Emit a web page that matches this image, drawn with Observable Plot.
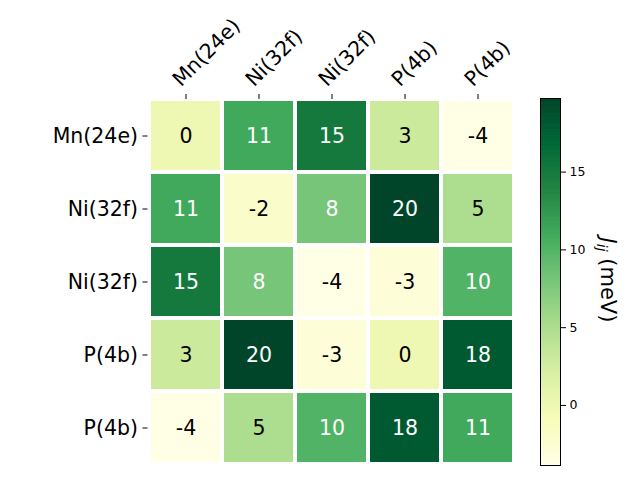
<!DOCTYPE html>
<html><head><meta charset="utf-8">
<script src="https://cdn.jsdelivr.net/npm/d3@7"></script>
<script src="https://cdn.jsdelivr.net/npm/@observablehq/plot@0.6"></script>
<style>
body{margin:0;background:#fff;}
#wrap{position:relative;width:640px;height:480px;font-family:"DejaVu Sans",sans-serif;}
#wrap svg{position:absolute;top:0;}
</style></head><body><div id="wrap"></div>
<script>
const rowLabels = ["Mn(24e)", "Ni(32f)", "Ni(32f)", "P(4b)", "P(4b)"];
const colLabels = ["Mn(24e)", "Ni(32f)", "Ni(32f)", "P(4b)", "P(4b)"];
const values = [
  [0, 11, 15, 3, -3.86],
  [11, -2, 8, 19.73, 5],
  [15, 8, -3.86, -3, 10],
  [3, 19.73, -3, 0, 18],
  [-3.86, 5, 10, 18, 11]
];
const colorMin = -3.86, colorMax = 19.73;
const cbTicks = [0, 5, 10, 15];
const ylgn = ["#ffffe5","#f7fcb9","#d9f0a3","#addd8e","#78c679","#41ab5d","#238443","#006837","#004529"];

const colorScale = {
  type: "linear",
  domain: ylgn.map((_, i) => colorMin + i * (colorMax - colorMin) / (ylgn.length - 1)),
  range: ylgn,
  interpolate: "rgb"
};

const cells = [];
values.forEach((row, i) => row.forEach((v, j) => cells.push({row: i, col: j, v})));
const fmt = v => String(Math.round(v));
const FS = 20.5;

const main = Plot.plot({
  width: 640, height: 480,
  marginLeft: 147.5, marginRight: 125.5, marginTop: 98, marginBottom: 15,
  style: {fontFamily: "DejaVu Sans, sans-serif", fontSize: FS + "px", background: "transparent", color: "black"},
  x: {type: "band", domain: d3.range(5), padding: 0, axis: null},
  y: {type: "band", domain: d3.range(5), padding: 0, axis: null},
  color: colorScale,
  marks: [
    Plot.cell(cells, {x: "col", y: "row", fill: "v", inset: 2}),
    Plot.text(cells.filter(d => d.v > 7), {x: "col", y: "row", text: d => fmt(d.v), fill: "white", fontSize: FS}),
    Plot.text(cells.filter(d => d.v <= 7), {x: "col", y: "row", text: d => fmt(d.v), fill: "black", fontSize: FS}),
    Plot.axisY({anchor: "left", tickSize: 5, tickPadding: 5, tickFormat: i => rowLabels[i], label: null, fontSize: FS}),
    Plot.axisX({anchor: "top", tickSize: 5, tickFormat: () => "", label: null}),
    Plot.text(d3.range(5), {x: d => d, frameAnchor: "top", text: i => colLabels[i], rotate: -45,
      textAnchor: "start", lineAnchor: "bottom", dx: -5, dy: -11, fontSize: FS, fill: "black"})
  ]
});

const N = 300;
const dv = (colorMax - colorMin) / N;
const steps = d3.range(N).map(i => colorMin + dv * i);
const cb = Plot.plot({
  width: 100, height: 480,
  marginLeft: 10, marginRight: 70, marginTop: 98, marginBottom: 15,
  style: {fontFamily: "DejaVu Sans, sans-serif", fontSize: "12.5px", background: "transparent", color: "black", overflow: "visible"},
  x: {domain: [0, 1], axis: null},
  y: {domain: [colorMin, colorMax], axis: null},
  color: colorScale,
  marks: [
    Plot.rect(steps, {x1: d => 0, x2: d => 1, y1: d => d, y2: d => Math.min(colorMax, d + dv * 1.6), fill: d => d}),
    Plot.frame({stroke: "black", strokeWidth: 1}),
    Plot.axisY({anchor: "right", ticks: cbTicks, tickFormat: () => "", tickSize: 5, label: null}),
    Plot.text(cbTicks, {y: d => d, frameAnchor: "right", dx: 9, textAnchor: "start", text: d => String(d), fontSize: 12.5, fill: "black"})
  ]
});
cb.style.left = "530px";

const t = d3.select(cb).append("text")
  .attr("transform", "translate(71,280) rotate(90)")
  .attr("text-anchor", "middle")
  .style("font-size", "21px")
  .style("font-family", "DejaVu Sans, sans-serif")
  .attr("fill", "black");
t.append("tspan").style("font-style", "italic").text("J");
t.append("tspan").style("font-style", "italic").style("font-size", "14px").attr("dy", 4).text("ij");
t.append("tspan").attr("dy", -4).text(" (meV)");

const wrap = document.getElementById("wrap");
wrap.appendChild(main);
wrap.appendChild(cb);
</script></body></html>
